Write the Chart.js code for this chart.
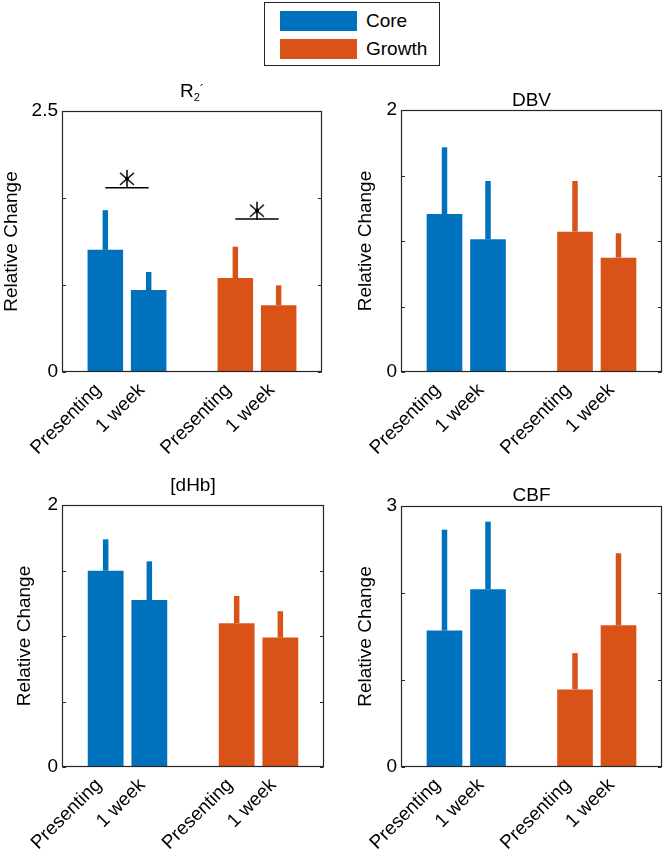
<!DOCTYPE html>
<html><head><meta charset="utf-8">
<script src="https://cdn.jsdelivr.net/npm/chart.js@4.4.0/dist/chart.umd.min.js"></script>
<style>
body{margin:0;background:#fff;width:664px;height:853px;position:relative;overflow:hidden;font-family:"Liberation Sans",Arial,Helvetica,sans-serif}
canvas{position:absolute}
#legend{position:absolute;left:264px;top:2px;width:174px;height:62px;border:1px solid #262626;background:#fff}
.sw{position:absolute;left:15px;width:77px;height:20px}
.lt{position:absolute;left:101px;font-size:19px;color:#000;line-height:20px}
</style></head><body>
<div id="legend">
  <div class="sw" style="top:8px;background:#0072BD"></div><div class="lt" style="top:8px">Core</div>
  <div class="sw" style="top:36px;background:#D95319"></div><div class="lt" style="top:36px">Growth</div>
</div>
<canvas id="c1" width="332" height="410" style="left:0;top:60px"></canvas>
<canvas id="c2" width="332" height="410" style="left:332px;top:60px"></canvas>
<canvas id="c3" width="332" height="383" style="left:0;top:470px"></canvas>
<canvas id="c4" width="332" height="383" style="left:332px;top:470px"></canvas>
<script>
const FONT = '"Liberation Sans", Arial, Helvetica, sans-serif';
const BLUE = '#0072BD', ORANGE = '#D95319', AXIS = '#262626';

// ---- data ----
const xTickVals = [1, 2, 4, 5];
const xTickLabels = ['Presenting', '1 week', 'Presenting', '1 week'];
const coreX = [1, 2];
const growthX = [4, 5];

const r2Core = [1.17, 0.785];
const r2CoreErr = [1.55, 0.958];
const r2Growth = [0.90, 0.64];
const r2GrowthErr = [1.20, 0.83];
const r2Ticks = [0, 0.8333, 1.6667, 2.5];
const r2TickLabels = ['0', '', '', '2.5'];
const r2SigLineX = [[1, 2], [4, 5]];
const r2SigLineY = [1.765, 1.465];
const r2SigStarX = [1.5, 4.5];
const r2SigStarY = [1.85, 1.545];

const dbvCore = [1.206, 1.013];
const dbvCoreErr = [1.715, 1.458];
const dbvGrowth = [1.071, 0.873];
const dbvGrowthErr = [1.458, 1.059];
const dbvTicks = [0, 0.5, 1, 1.5, 2];
const dbvTickLabels = ['0', '', '', '', '2'];

const dhbCore = [1.498, 1.275];
const dhbCoreErr = [1.738, 1.570];
const dhbGrowth = [1.098, 0.988];
const dhbGrowthErr = [1.306, 1.189];
const dhbTicks = [0, 0.5, 1, 1.5, 2];
const dhbTickLabels = ['0', '', '', '', '2'];

const cbfCore = [1.568, 2.044];
const cbfCoreErr = [2.728, 2.82];
const cbfGrowth = [0.891, 1.63];
const cbfGrowthErr = [1.309, 2.457];
const cbfTicks = [0, 1, 2, 3];
const cbfTickLabels = ['0', '', '', '3'];

// ---- drawing helpers ----
function makeStar() {
  const c = document.createElement('canvas');
  c.width = 20; c.height = 20;
  const g = c.getContext('2d');
  g.strokeStyle = '#000'; g.lineWidth = 1.5;
  g.beginPath();
  g.moveTo(10, 1); g.lineTo(10, 19);
  g.moveTo(3, 4); g.lineTo(17, 16);
  g.moveTo(17, 4); g.lineTo(3, 16);
  g.stroke();
  g.fillStyle = '#000';
  g.beginPath(); g.arc(10, 10, 2, 0, Math.PI * 2); g.fill();
  return c;
}
const STAR = makeStar();

const framePlugin = {
  id: 'frame',
  afterDraw(chart) {
    const {ctx, chartArea: a, scales: {y}} = chart;
    ctx.save();
    ctx.strokeStyle = AXIS; ctx.lineWidth = 1.2;
    const L = Math.round(a.left) + 0.5, R = Math.round(a.right) - 0.5;
    const T = Math.round(a.top) + 0.5, B = Math.round(a.bottom) - 0.5;
    ctx.strokeRect(L, T, R - L, B - T);
    ctx.beginPath();
    y.ticks.forEach(t => {
      const py = Math.round(y.getPixelForValue(t.value)) + 0.5;
      ctx.moveTo(L, py); ctx.lineTo(L + 3.5, py);
      ctx.moveTo(R, py); ctx.lineTo(R - 3.5, py);
    });
    ctx.stroke();
    const o = chart.options.plugins.panelTitle;
    if (o) {
      const cx = (a.left + a.right) / 2;
      const by = a.top - o.offset;
      ctx.fillStyle = '#000';
      ctx.textBaseline = 'alphabetic';
      let total = 0;
      const parts = o.parts.map(p => {
        ctx.font = p.size + 'px ' + FONT;
        const w = ctx.measureText(p.t).width;
        const r = {p, w, x: total};
        total += w + (p.gap || 0);
        return r;
      });
      const x0 = cx - total / 2;
      parts.forEach(r => {
        ctx.font = r.p.size + 'px ' + FONT;
        ctx.textAlign = 'left';
        ctx.fillText(r.p.t, x0 + r.x, by + (r.p.dy || 0));
      });
    }
    ctx.restore();
  }
};

function makePanel(id, cfg) {
  const datasets = [
    {type: 'bar', label: 'Core', data: coreX.map((x, i) => ({x, y: cfg.core[i]})),
     backgroundColor: BLUE, barPercentage: 0.82, categoryPercentage: 1, grouped: false},
    {type: 'bar', label: 'Growth', data: growthX.map((x, i) => ({x, y: cfg.growth[i]})),
     backgroundColor: ORANGE, barPercentage: 0.82, categoryPercentage: 1, grouped: false},
    {type: 'bar', label: 'Core SE', data: coreX.map((x, i) => ({x, y: [cfg.core[i], cfg.coreErr[i]]})),
     backgroundColor: BLUE, barPercentage: 0.126, categoryPercentage: 1, grouped: false},
    {type: 'bar', label: 'Growth SE', data: growthX.map((x, i) => ({x, y: [cfg.growth[i], cfg.growthErr[i]]})),
     backgroundColor: ORANGE, barPercentage: 0.126, categoryPercentage: 1, grouped: false}
  ];
  if (cfg.sig) {
    cfg.sig.lineX.forEach((xs, i) => {
      datasets.push({type: 'line', label: 'sig', data: xs.map(x => ({x, y: cfg.sig.lineY[i]})),
        borderColor: '#000', borderWidth: 1.4, pointRadius: 0, fill: false});
    });
    datasets.push({type: 'scatter', label: 'star',
      data: cfg.sig.starX.map((x, i) => ({x, y: cfg.sig.starY[i]})),
      pointStyle: STAR, pointRadius: 9, showLine: false});
  }
  const font = {family: FONT, size: 19};
  new Chart(document.getElementById(id), {
    type: 'bar',
    data: {datasets},
    options: {
      responsive: false, animation: false, events: [],
      layout: {padding: {top: cfg.padTop, right: cfg.padRight, left: 0, bottom: 0}},
      plugins: {legend: {display: false}, tooltip: {enabled: false},
        panelTitle: {parts: cfg.title, offset: cfg.titleOffset}},
      scales: {
        x: {type: 'linear', min: 0, max: 6, offset: false,
          afterBuildTicks: s => { s.ticks = xTickVals.map(v => ({value: v})); },
          afterFit: s => { s.height = cfg.xH; },
          grid: {display: false, drawTicks: false, offset: false}, border: {display: false},
          ticks: {autoSkip: false, maxRotation: 45, minRotation: 45, padding: 7, labelOffset: -7,
            font, color: '#000', callback: (v, i) => xTickLabels[i]}},
        y: {type: 'linear', min: 0, max: cfg.yTicks[cfg.yTicks.length - 1],
          afterBuildTicks: s => { s.ticks = cfg.yTicks.map(v => ({value: v})); },
          afterFit: s => { s.width = cfg.yW; },
          grid: {display: false, drawTicks: false}, border: {display: false},
          ticks: {autoSkip: false, padding: 4, font, color: '#000',
            callback: (v, i) => cfg.yTickLabels[i]},
          title: {display: true, text: 'Relative Change', font, color: '#000',
            padding: {top: cfg.yTitlePad, bottom: 0}}}
      }
    },
    plugins: [framePlugin]
  });
}

makePanel('c1', {core: r2Core, coreErr: r2CoreErr, growth: r2Growth, growthErr: r2GrowthErr,
  yTicks: r2Ticks, yTickLabels: r2TickLabels,
  sig: {lineX: r2SigLineX, lineY: r2SigLineY, starX: r2SigStarX, starY: r2SigStarY},
  title: [{t: 'R', size: 19}, {t: '2', size: 11, dy: 4}, {t: '´', size: 13, dy: -3}],
  titleOffset: 14.3, padTop: 51, padRight: 8, xH: 98, yW: 62, yTitlePad: 0});
makePanel('c2', {core: dbvCore, coreErr: dbvCoreErr, growth: dbvGrowth, growthErr: dbvGrowthErr,
  yTicks: dbvTicks, yTickLabels: dbvTickLabels,
  title: [{t: 'DBV', size: 19}], titleOffset: 4.5,
  padTop: 50, padRight: 2, xH: 98, yW: 69, yTitlePad: 22.6});
makePanel('c3', {core: dhbCore, coreErr: dhbCoreErr, growth: dhbGrowth, growthErr: dhbGrowthErr,
  yTicks: dhbTicks, yTickLabels: dhbTickLabels,
  title: [{t: '[dHb]', size: 19}], titleOffset: 14,
  padTop: 35, padRight: 8, xH: 86, yW: 62, yTitlePad: 13.6});
makePanel('c4', {core: cbfCore, coreErr: cbfCoreErr, growth: cbfGrowth, growthErr: cbfGrowthErr,
  yTicks: cbfTicks, yTickLabels: cbfTickLabels,
  title: [{t: 'CBF', size: 19}], titleOffset: 5.3,
  padTop: 36, padRight: 2, xH: 86, yW: 69, yTitlePad: 22.6});
</script>
</body></html>
